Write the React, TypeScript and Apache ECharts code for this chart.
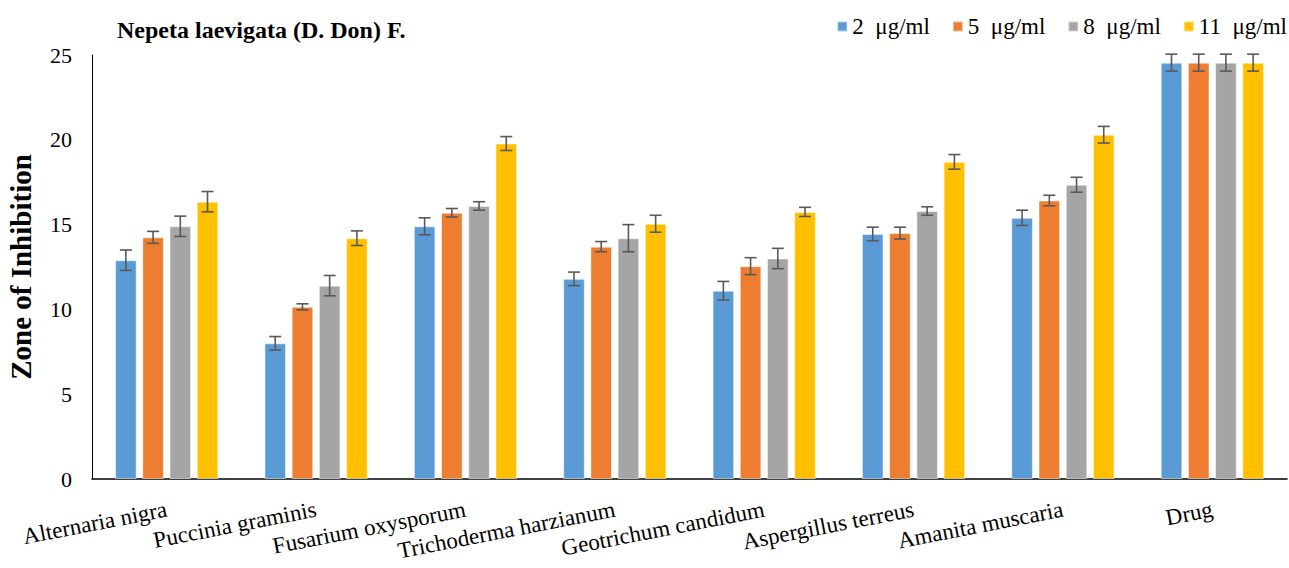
import React, { useEffect, useRef } from "react";
import * as echarts from "echarts";

const categories = [
  "Alternaria nigra",
  "Puccinia graminis",
  "Fusarium oxysporum",
  "Trichoderma harzianum",
  "Geotrichum candidum",
  "Aspergillus terreus",
  "Amanita muscaria",
  "Drug",
];

const seriesNames = ["2  μg/ml", "5  μg/ml", "8  μg/ml", "11  μg/ml"];
const colors = ["#5B9BD5", "#ED7D31", "#A5A5A5", "#FFC000"];

const values2 = [12.9, 8.0, 14.9, 11.8, 11.1, 14.45, 15.4, 24.55];
const values5 = [14.25, 10.15, 15.7, 13.7, 12.55, 14.5, 16.42, 24.55];
const values8 = [14.9, 11.4, 16.1, 14.2, 13.0, 15.8, 17.35, 24.55];
const values11 = [16.35, 14.2, 19.78, 15.05, 15.75, 18.7, 20.3, 24.55];

const err2 = [0.6, 0.4, 0.5, 0.4, 0.55, 0.4, 0.45, 0.5];
const err5 = [0.35, 0.18, 0.25, 0.3, 0.5, 0.35, 0.31, 0.5];
const err8 = [0.6, 0.6, 0.25, 0.8, 0.6, 0.25, 0.44, 0.5];
const err11 = [0.6, 0.43, 0.41, 0.5, 0.27, 0.43, 0.49, 0.5];

const yTicks = [0, 5, 10, 15, 20, 25];

const allValues = [values2, values5, values8, values11];
const allErrors = [err2, err5, err8, err11];

const BAR_W = 21.6;
const BAR_GAP_PCT = 26;
const PITCH = BAR_W * (1 + BAR_GAP_PCT / 100);
const FONT = "'Liberation Serif', 'Times New Roman', serif";

export default function App() {
  const ref = useRef<HTMLDivElement>(null);

  useEffect(() => {
    document.body.style.margin = "0";
    if (!ref.current) return;
    const chart = echarts.init(ref.current, undefined, { renderer: "svg" });

    const barSeries = allValues.map((vals, i) => ({
      name: seriesNames[i],
      type: "bar",
      data: vals,
      barWidth: BAR_W,
      barGap: BAR_GAP_PCT + "%",
      itemStyle: { color: colors[i], borderColor: "rgba(255,255,255,0.5)", borderWidth: 1 },
      z: 2,
    }));

    const errSeries = allValues.map((vals, i) => ({
      name: "err" + i,
      type: "custom",
      data: vals.map((v, k) => [k, v, allErrors[i][k]]),
      encode: { x: 0, y: 1 },
      z: 5,
      silent: true,
      renderItem: (params: any, api: any) => {
        const k = api.value(0);
        const v = api.value(1);
        const e = api.value(2);
        const top = api.coord([k, v + e]);
        const bot = api.coord([k, v - e]);
        const x = top[0] + (i - 1.5) * PITCH;
        const cap = 6;
        const style = { stroke: "#595959", lineWidth: 1.6 };
        return {
          type: "group",
          children: [
            { type: "line", shape: { x1: x, y1: top[1], x2: x, y2: bot[1] }, style },
            { type: "line", shape: { x1: x - cap, y1: top[1], x2: x + cap, y2: top[1] }, style },
            { type: "line", shape: { x1: x - cap, y1: bot[1], x2: x + cap, y2: bot[1] }, style },
          ],
        };
      },
    }));

    chart.setOption({
      animation: false,
      textStyle: { fontFamily: FONT },
      title: {
        text: "Nepeta laevigata (D. Don) F.",
        left: 112,
        top: 13,
        textStyle: { fontFamily: FONT, fontSize: 24, fontWeight: "bold", color: "#000" },
      },
      legend: {
        data: seriesNames.map((n, i) => ({ name: n, itemStyle: { color: colors[i] } })),
        right: 2,
        top: 15,
        padding: 0,
        icon: "rect",
        itemWidth: 10,
        itemHeight: 10,
        itemGap: 22,
        textStyle: { fontFamily: FONT, fontSize: 23, color: "#000" },
      },
      grid: {
        left: 92,
        right: 2,
        top: 55,
        bottom: 89,
        containLabel: false,
        outerBoundsMode: "none",
      },
      xAxis: {
        type: "category",
        data: categories,
        axisLine: { lineStyle: { color: "#000", width: 1.5 } },
        axisTick: { show: false },
        axisLabel: {
          rotate: 11,
          interval: 0,
          margin: 30,
          fontFamily: FONT,
          fontSize: 23,
          color: "#000",
        },
      },
      yAxis: {
        type: "value",
        min: yTicks[0],
        max: yTicks[yTicks.length - 1],
        interval: 5,
        name: "Zone of Inhibition",
        nameLocation: "middle",
        nameGap: 57,
        nameTextStyle: { fontFamily: FONT, fontSize: 29, fontWeight: "bold", color: "#000" },
        axisLine: { show: true, lineStyle: { color: "#000", width: 1 } },
        axisTick: { show: false },
        splitLine: { show: false },
        axisLabel: { margin: 20, fontFamily: FONT, fontSize: 22, color: "#000" },
      },
      series: [...barSeries, ...errSeries],
    });

    return () => chart.dispose();
  }, []);

  return <div ref={ref} style={{ width: 1289, height: 568 }} />;
}
